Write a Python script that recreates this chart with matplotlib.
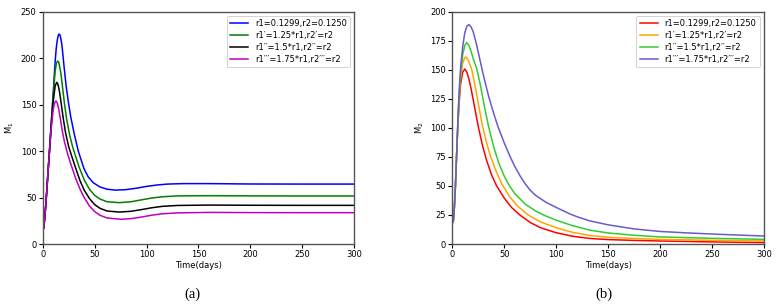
import matplotlib
matplotlib.use("Agg")
import matplotlib.pyplot as plt

# ---- M1 (panel a) ----
t1_blue = [0, 1, 2, 3, 4, 5, 6, 7, 8, 10, 12, 13, 14, 15, 15.8, 16.7, 17.5, 18.3, 19, 20.6, 22.5, 24.7, 27, 30.5, 34.3,
           39.8, 44, 48.7, 55, 62, 70, 80, 90, 100, 110, 120, 135, 160, 200, 250, 300]
m1_blue = [18, 17, 28, 42, 58, 75, 91, 108, 126, 160, 196, 210, 219, 224.5, 226, 225, 221, 216, 209, 191, 171, 153,
           137, 118, 100, 81, 72, 66, 61.5, 59, 58, 58.5, 60, 62, 63.5, 64.5, 65, 65, 64.6, 64.5, 64.5]

t1_green = [0, 1, 2, 3, 4, 5, 6, 7, 8, 10, 12, 13.3, 14.4, 15.3, 16, 17.5, 19, 21, 23, 26, 29, 31, 35, 40, 45, 50,
            55, 62, 74, 85, 95, 105, 115, 130, 160, 200, 250, 300]
m1_green = [18, 17, 28, 42, 58, 75, 91, 108, 125, 157, 186, 195, 197, 196, 193, 184, 170, 151, 135, 117, 104, 97, 83,
            69, 59, 52.5, 48.5, 45.5, 44.5, 45.5, 47.5, 49.5, 50.8, 51.8, 52, 51.8, 51.7, 51.7]

t1_black = [0, 1, 2, 3, 4, 5, 6, 7, 8, 10, 12, 13.5, 14.5, 15.5, 16.5, 18, 20, 22, 25, 28.7, 32, 36, 40, 45, 50,
            55, 62, 74, 85, 95, 105, 115, 130, 160, 200, 250, 300]
m1_black = [18, 17, 28, 42, 58, 75, 91, 107, 124, 152, 170, 174, 172.5, 168, 162, 150, 134, 120, 105, 92, 81, 68, 58,
            49, 42.5, 38.5, 35.5, 34.4, 35.2, 37, 39, 40.5, 41.5, 41.9, 41.7, 41.6, 41.6]

t1_mag = [0, 1, 2, 3, 4, 5, 6, 7, 8, 10, 11, 12, 12.8, 14, 15.5, 17, 19, 21, 24, 28, 32, 36, 40, 45, 50,
          55, 62, 76, 85, 95, 105, 115, 130, 160, 200, 250, 300]
m1_mag = [18, 17, 28, 42, 58, 75, 91, 106, 122, 143, 150, 153, 154, 152, 145, 135, 121, 110, 97, 83, 70, 59, 50, 41,
          35, 31, 28, 26.6, 27.3, 29, 31, 32.5, 33.5, 34, 33.8, 33.7, 33.7]

# ---- M2 (panel b) ----
t2_red = [0, 1, 2, 3, 4, 5, 6, 7, 8, 10, 12, 14, 16, 18, 21, 25, 29, 33, 38, 42.7, 50, 57, 65, 75, 85, 100,
          115, 132, 150, 175, 200, 250, 300]
m2_red = [18, 20, 32, 50, 73, 95, 113, 127, 138, 148, 150.7, 148, 142, 134, 120, 101, 85, 72, 59, 50, 39.5, 31.5, 25,
          18.5, 14, 9.7, 6.8, 4.8, 3.8, 3.1, 2.6, 1.8, 1.2]

t2_orange = [0, 1, 2, 3, 4, 5, 6, 7, 8, 10, 12, 13, 15, 18.5, 22, 26, 29.2, 33, 37, 42, 47.5, 55, 63, 73, 85, 100,
             115, 132, 150, 175, 200, 250, 300]
m2_orange = [18, 20, 32, 50, 74, 96, 115, 131, 143, 156, 160.5, 161, 159, 151, 136, 116, 101, 87, 75, 63, 52, 41, 32.5,
             25, 19, 14, 10.2, 7.4, 5.8, 4.7, 4, 3.2, 2.6]

t2_green = [0, 1, 2, 3, 4, 5, 6, 7, 8, 10, 12, 13.8, 16, 18, 20, 23.5, 27, 31, 34.7, 40, 45, 50, 54, 60, 70, 80, 89,
            100, 115, 132, 150, 175, 200, 250, 300]
m2_green = [18, 20, 32, 50, 74, 97, 118, 134, 147, 163, 171, 173.4, 171, 166, 160, 151, 137, 118, 102, 83, 69, 58.5, 51.5,
            43.5, 34.5, 28.5, 24.5, 20.5, 16, 12, 9.5, 7.5, 6.1, 4.9, 4]

t2_purple = [0, 1, 2, 3, 4, 5, 6, 7, 8, 10, 12, 14, 16, 18, 20, 23, 26, 28, 30, 35, 40, 44, 50, 55, 60, 65, 70, 75, 80,
             90, 100, 113, 120, 132, 150, 175, 200, 225, 250, 275, 300]
m2_purple = [18, 20, 32, 50, 74, 98, 120, 138, 152, 170, 182, 187.5, 189, 187, 183, 173, 161, 153, 145, 127, 112, 101,
             87, 76.5, 67, 59, 52, 46.3, 42, 36, 31.5, 26, 23.5, 20, 16.5, 13, 10.8, 9.6, 8.6, 7.7, 6.9]

labels = ["r1=0.1299,r2=0.1250", "r1\u2032=1.25*r1,r2\u2032=r2",
          "r1\u2032\u2032=1.5*r1,r2\u2032\u2032=r2", "r1\u2032\u2032\u2032=1.75*r1,r2\u2032\u2032\u2032=r2"]

fig = plt.figure(figsize=(7.8, 3.06), dpi=100)
ax1 = fig.add_axes([0.0547, 0.2026, 0.3995, 0.759])
ax2 = fig.add_axes([0.5799, 0.2026, 0.3995, 0.759])

lw = 1.1
ax1.plot(t1_blue, m1_blue, color="blue", lw=lw, label=labels[0])
ax1.plot(t1_green, m1_green, color="green", lw=lw, label=labels[1])
ax1.plot(t1_black, m1_black, color="black", lw=lw, label=labels[2])
ax1.plot(t1_mag, m1_mag, color="m", lw=lw, label=labels[3])

ax2.plot(t2_red, m2_red, color="red", lw=lw, label=labels[0])
ax2.plot(t2_orange, m2_orange, color="orange", lw=lw, label=labels[1])
ax2.plot(t2_green, m2_green, color="limegreen", lw=lw, label=labels[2])
ax2.plot(t2_purple, m2_purple, color="slateblue", lw=lw, label=labels[3])

fs = 6
for ax, top, step, ylab in [(ax1, 250, 50, "M$_1$"), (ax2, 200, 25, "M$_2$")]:
    ax.set_xlim(0, 300)
    ax.set_ylim(0, top)
    ax.set_xticks(range(0, 301, 50))
    ax.set_yticks(range(0, top + 1, step))
    ax.tick_params(labelsize=fs, length=3, width=0.8, pad=1.5)
    ax.set_xlabel("Time(days)", fontsize=fs, labelpad=1)
    ax.set_ylabel(ylab, fontsize=fs, labelpad=3)
    for s in ax.spines.values():
        s.set_color("#555555")
        s.set_linewidth(1.0)
    leg = ax.legend(loc="upper right", fontsize=fs, handlelength=2.2, borderpad=0.4, labelspacing=0.35,
                    handletextpad=0.8, framealpha=1)
    leg.get_frame().set_linewidth(0.6)

fig.text(0.247, 0.037, "(a)", fontsize=10.5, family="Liberation Serif", ha="center", va="center")
fig.text(0.774, 0.037, "(b)", fontsize=10.5, family="Liberation Serif", ha="center", va="center")

fig.savefig("out.png", dpi=100)
